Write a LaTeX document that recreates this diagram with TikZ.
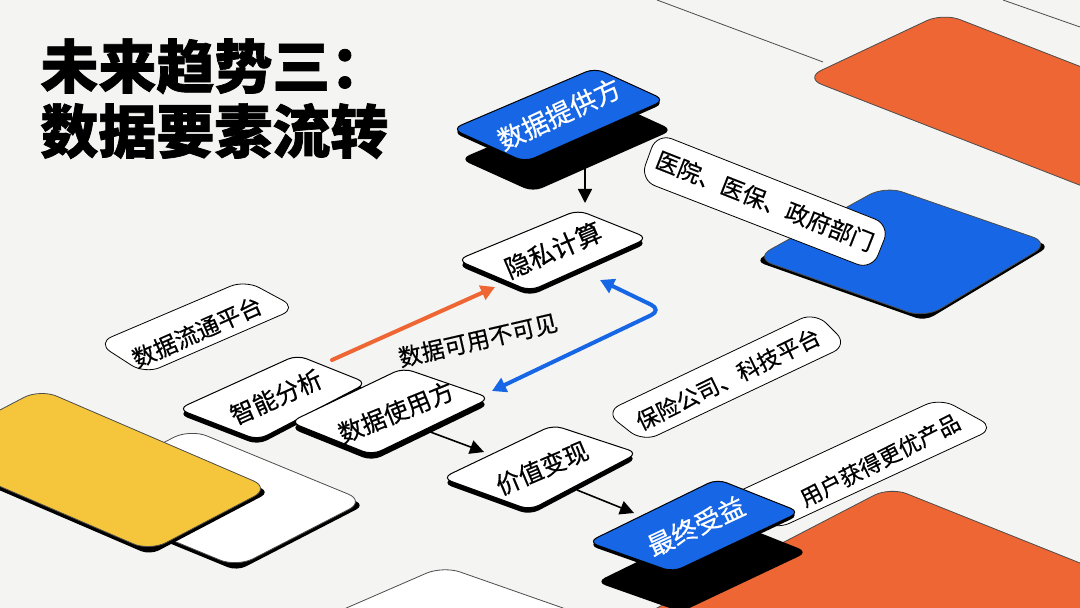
\documentclass[tikz,border=0pt]{standalone}
\usepackage{fontspec}
\usepackage{tikz}
\usetikzlibrary{arrows.meta}
\newfontfamily\cjk[BoldFeatures={FakeBold=1.2}]{Noto Sans CJK SC}
\newfontfamily\cjkm[FakeBold=0.5]{Noto Sans CJK SC}

\definecolor{paper}{HTML}{F4F4F2}
\definecolor{dblue}{RGB}{22,102,230}
\definecolor{dorange}{RGB}{238,102,51}
\definecolor{dyellow}{RGB}{245,198,60}

% slab lying on the floor: style, corners L T R B, thickness
\newcommand{\slab}[6]{%
  \fill[black, rounded corners=5pt, yshift=-#6] (#2) -- (#3) -- (#4) -- (#5) -- cycle;
  \path[rounded corners=5pt, #1] (#2) -- (#3) -- (#4) -- (#5) -- cycle;
}

\tikzset{
  floorbox/.style={fill=white, draw=black, line width=0.5pt},
  bluebox/.style={fill=dblue, draw=black, line width=0.5pt},
  tagbox/.style={fill=white, draw=black, line width=0.4pt, rounded corners=8pt},
  bigslab/.style={draw=black!70, line width=0.4pt, rounded corners=9pt},
  boxtext/.style={font=\cjkm\fontsize{#1}{#1}\selectfont, inner sep=0pt},
  boxtext/.default=12,
  flow/.style={line width=0.8pt, -{Triangle[length=7pt, width=7pt]}},
  thick flow/.style={line width=2pt, line cap=round, -{Triangle[length=7pt, width=7.5pt]}},
}

\begin{document}
\begin{tikzpicture}[x=0.5pt, y=-0.5pt]
    \useasboundingbox (0,0) rectangle (1080,608);
    \clip (0,0) rectangle (1080,608);
    \fill[paper] (0,0) rectangle (1080,608);

    % Placas de fondo
    \draw[black!70, line width=0.4pt] (657,0) -- (823,62);
    \draw[black!70, line width=0.4pt] (1003,0) -- (1080,27);
    \path[bigslab, fill=dorange] (805,78) -- (943,13) -- (1343,169) -- (1205,234) -- cycle;
    \slab{bigslab, fill=dblue}{755,258}{885,186}{1050,243}{925,318}{1.5pt}
    \slab{bigslab, fill=white}{62,495}{190,429}{365,501}{237,567}{2pt}
    \slab{bigslab, fill=dyellow}{-80,452}{40,389}{270,488}{150,551}{2pt}
    \path[bigslab, fill=white] (213,666) -- (443,566) -- (700,656) -- (470,756) -- cycle;
    \path[bigslab, fill=dorange] (630,622) -- (890,487) -- (1290,647) -- (1030,782) -- cycle;

    % Etiquetas
    \path[tagbox] (97,343) -- (245,280) -- (297,308) -- (145,374) -- cycle;
    \path[tagbox] (640,180) -- (657,133) -- (890,225) -- (872,270) -- cycle;
    \path[tagbox] (605,412) -- (815,312) -- (848,345) -- (643,442) -- cycle;
    \path[tagbox] (720,500) -- (940,398) -- (995,428) -- (775,530) -- cycle;

    % Cajas
    \fill[black, rounded corners=5pt] (460,159) -- (603,98) -- (673,130) -- (533,192) -- cycle;
    \slab{bluebox}{452,129}{595,68}{665,100}{525,162}{1.5pt}
    \slab{floorbox}{457,260}{578,210}{648,238}{530,291}{2.5pt}
    \slab{floorbox}{178,409}{297,355}{367,383}{258,440}{2.5pt}
    \slab{floorbox}{290,422}{403,368}{490,398}{372,455}{3pt}
    \slab{floorbox}{442,478}{553,425}{638,453}{530,510}{2.5pt}
    \fill[black, rounded corners=5pt] (596,582) -- (725,519) -- (808,552) -- (681,612) -- cycle;
    \slab{bluebox}{588,542}{717,479}{800,512}{673,572}{1.5pt}

    % Textos
    \node[anchor=base west, font=\cjk\bfseries\fontsize{29}{29}\selectfont, inner sep=0pt] (title1) at (40,88) {未来趋势三：};
    \node[anchor=base west, font=\cjk\bfseries\fontsize{29}{29}\selectfont, inner sep=0pt] (title2) at (40,153) {数据要素流转};
    \node[boxtext=13.2, text=white, rotate=25] (provider) at (559,114) {数据提供方};
    \node[boxtext=12.8, rotate=23] (privacy) at (553,250) {隐私计算};
    \node[boxtext=11.6, rotate=-21.5] (hospital) at (765,201) {医院、医保、政府部门};
    \node[boxtext=11.6, rotate=24] (platform) at (197,332) {数据流通平台};
    \node[boxtext=12.2, rotate=24] (analysis) at (276,397) {智能分析};
    \node[boxtext=12.2, rotate=22] (user) at (396,412) {数据使用方};
    \node[boxtext=11.6, rotate=13] (invisible) at (478,340) {数据可用不可见};
    \node[boxtext=12.2, rotate=23] (value) at (542,468) {价值变现};
    \node[boxtext=11.2, rotate=26] (insurer) at (728,379) {保险公司、科技平台};
    \node[boxtext=13, text=white, rotate=25] (benefit) at (696,526) {最终受益};
    \node[boxtext=11, rotate=27] (consumer) at (880,460) {用户获得更优产品};

    % Flechas
    \coordinate (provider-out) at (585,145);
    \coordinate (privacy-in) at (585,203);
    \coordinate (analysis-out) at (332,360);
    \coordinate (privacy-left) at (495,287);
    \coordinate (privacy-right) at (600,280);
    \coordinate (bend) at (662,310);
    \coordinate (user-in) at (492,391);
    \coordinate (user-out) at (425,430);
    \coordinate (value-in) at (484,452);
    \coordinate (value-out) at (577,490);
    \coordinate (benefit-in) at (634,513);
    \draw[flow, black] (provider-out) -- (privacy-in);
    \draw[thick flow, dorange] (analysis-out) -- (privacy-left);
    \draw[thick flow, dblue, {Triangle[length=7pt, width=7.5pt]}-{Triangle[length=7pt, width=7.5pt]}, rounded corners=6pt] (privacy-right) -- (bend) -- (user-in);
    \draw[flow] (user-out) -- (value-in);
    \draw[flow] (value-out) -- (benefit-in);
\end{tikzpicture}
\end{document}
